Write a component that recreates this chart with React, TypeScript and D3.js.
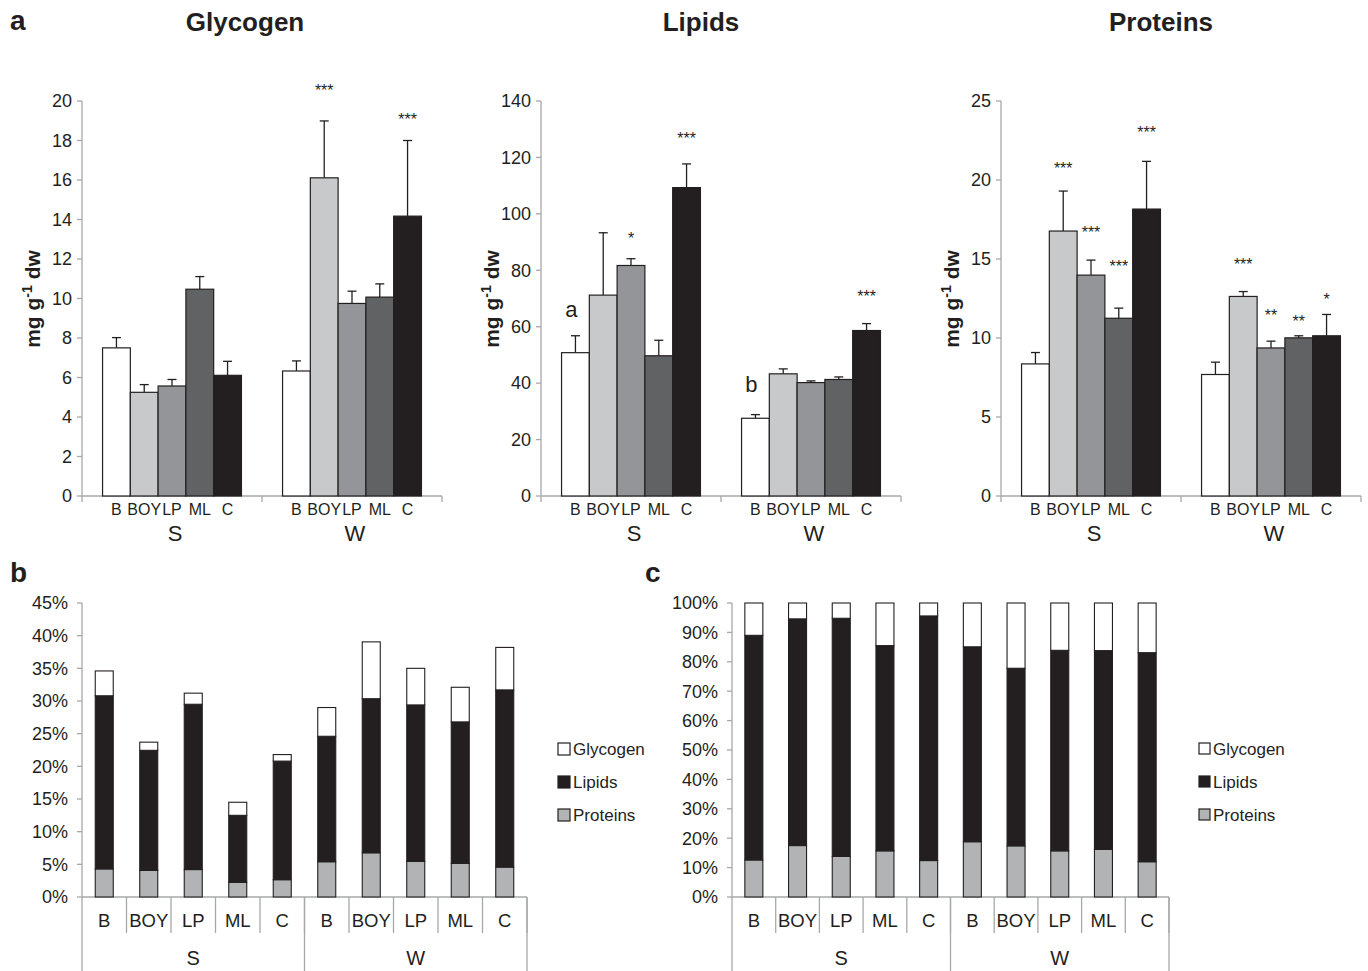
import React from "react";
import * as d3 from "d3";

const groups = ["S", "W"];
const categories = ["B", "BOY", "LP", "ML", "C"];

// Panel a: means and +SE, order S(B,BOY,LP,ML,C), W(B,BOY,LP,ML,C)
const glycogenMean = [7.5, 5.25, 5.57, 10.47, 6.11, 6.33, 16.11, 9.75, 10.07, 14.17];
const glycogenErr = [0.52, 0.39, 0.33, 0.64, 0.71, 0.51, 2.88, 0.62, 0.67, 3.83];
const glycogenSig = ["", "", "", "", "", "", "***", "", "", "***"];
const glycogenSigY = [0, 0, 0, 0, 0, 0, 20.23, 0, 0, 18.81];

const lipidsMean = [50.8, 71.2, 81.7, 49.7, 109.3, 27.55, 43.3, 40.2, 41.3, 58.65];
const lipidsErr = [6.0, 22.1, 2.4, 5.5, 8.4, 1.3, 1.75, 0.6, 0.9, 2.45];
const lipidsSig = ["a", "", "*", "", "***", "b", "", "", "", "***"];
const lipidsSigY = [63.5, 0, 89.3, 0, 124.8, 36.9, 0, 0, 0, 68.8];

const proteinsMean = [8.36, 16.77, 13.98, 11.25, 18.16, 7.69, 12.63, 9.37, 10.01, 10.14];
const proteinsErr = [0.72, 2.53, 0.95, 0.64, 3.02, 0.78, 0.31, 0.43, 0.13, 1.35];
const proteinsSig = ["", "***", "***", "***", "***", "", "***", "**", "**", "*"];
const proteinsSigY = [0, 20.38, 16.33, 14.18, 22.66, 0, 14.3, 11.08, 10.7, 12.09];

// Panel b: % of dry weight
const bProteins = [4.3, 4.07, 4.2, 2.25, 2.65, 5.4, 6.77, 5.45, 5.14, 4.58];
const bLipids = [26.5, 18.38, 25.3, 10.25, 18.15, 19.2, 23.58, 23.95, 21.66, 27.12];
const bGlycogen = [3.8, 1.25, 1.7, 2.0, 1.0, 4.4, 8.7, 5.6, 5.3, 6.5];
const bTicks = [0, 5, 10, 15, 20, 25, 30, 35, 40, 45];

// Panel c: relative composition
const cProteins = [12.6, 17.5, 13.8, 15.7, 12.4, 18.8, 17.4, 15.7, 16.2, 12.0];
const cLipids = [76.4, 77.1, 81.0, 69.8, 83.2, 66.3, 60.4, 68.2, 67.6, 71.1];
const cGlycogen = [11.0, 5.4, 5.2, 14.5, 4.4, 14.9, 22.2, 16.1, 16.2, 16.9];
const cTicks = [0, 10, 20, 30, 40, 50, 60, 70, 80, 90, 100];

const barColors = ["#ffffff", "#c8c9cb", "#939598", "#616264", "#231f20"];
const segKeys = ["Proteins", "Lipids", "Glycogen"];
const segColors: Record<string, string> = { Proteins: "#b2b3b5", Lipids: "#231f20", Glycogen: "#ffffff" };
const legendOrder = ["Glycogen", "Lipids", "Proteins"];

const FONT = "'Liberation Sans', Arial, Helvetica, sans-serif";
const INK = "#231f20";
const AXIS = "#a7a8aa";

type BarPanelProps = {
  axisX: number;
  title: string;
  titleX: number;
  mean: number[];
  err: number[];
  sig: string[];
  sigY: number[];
  yMax: number;
  step: number;
};

function BarPanel({ axisX, title, titleX, mean, err, sig, sigY, yMax, step }: BarPanelProps) {
  const y = d3.scaleLinear().domain([0, yMax]).range([496, 101]);
  const gx = d3.scaleBand().domain(groups).range([axisX, axisX + 360]).padding(0);
  const cx = d3.scaleBand().domain(categories).range([0, gx.bandwidth()]).paddingInner(0).paddingOuter(0.74);
  const ticks = d3.range(0, yMax + step / 2, step);
  const rows = mean.map((m, i) => ({
    g: groups[Math.floor(i / categories.length)],
    c: categories[i % categories.length],
    ci: i % categories.length,
    m,
    e: err[i],
    s: sig[i],
    sy: sigY[i],
  }));
  const bw = cx.bandwidth();
  return (
    <g fontFamily={FONT}>
      <text x={titleX} y={31} textAnchor="middle" fontWeight="bold" fontSize={26} fill={INK}>
        {title}
      </text>
      {/* y axis */}
      <line x1={axisX} x2={axisX} y1={y(yMax)} y2={502} stroke={AXIS} strokeWidth={1.3} />
      {ticks.map((t) => (
        <g key={t}>
          <line x1={axisX - 5} x2={axisX} y1={y(t)} y2={y(t)} stroke={AXIS} strokeWidth={1.3} />
          <text x={axisX - 10} y={y(t)} dy="0.35em" textAnchor="end" fontSize={18} fill={INK}>
            {t}
          </text>
        </g>
      ))}
      {/* x axis */}
      <line x1={axisX} x2={axisX + 360} y1={y(0)} y2={y(0)} stroke={AXIS} strokeWidth={1.3} />
      {groups.map((g) => (
        <line key={g} x1={(gx(g) as number) + gx.bandwidth()} x2={(gx(g) as number) + gx.bandwidth()} y1={y(0)} y2={502} stroke={AXIS} strokeWidth={1.3} />
      ))}
      {/* bars */}
      {rows.map((r, i) => {
        const x = (gx(r.g) as number) + (cx(r.c) as number);
        const mid = x + bw / 2;
        return (
          <g key={i}>
            <line x1={mid} x2={mid} y1={y(r.m)} y2={y(r.m + r.e)} stroke={INK} strokeWidth={1.3} />
            <line x1={mid - 4.5} x2={mid + 4.5} y1={y(r.m + r.e)} y2={y(r.m + r.e)} stroke={INK} strokeWidth={1.3} />
            <rect x={x} y={y(r.m)} width={bw} height={y(0) - y(r.m)} fill={barColors[r.ci]} stroke={INK} strokeWidth={1.2} />
          </g>
        );
      })}
      {/* significance labels */}
      {rows.map((r, i) => {
        if (!r.s) return null;
        const x = (gx(r.g) as number) + (cx(r.c) as number) + bw / 2;
        const isLetter = /[a-z]/.test(r.s);
        return (
          <text key={"s" + i} x={isLetter ? x - 4 : x} y={y(r.sy)} textAnchor="middle" fontSize={isLetter ? 22 : 16} fill={INK}>
            {r.s}
          </text>
        );
      })}
      {/* category labels */}
      {rows.map((r, i) => (
        <text key={"c" + i} x={(gx(r.g) as number) + (cx(r.c) as number) + bw / 2} y={515} textAnchor="middle" fontSize={16} fill={INK}>
          {r.c}
        </text>
      ))}
      {groups.map((g) => (
        <text key={"g" + g} x={(gx(g) as number) + gx.bandwidth() / 2 + 3} y={541} textAnchor="middle" fontSize={22} fill={INK}>
          {g}
        </text>
      ))}
      <text transform={`translate(${axisX - 42},299) rotate(-90)`} textAnchor="middle" fontWeight="bold" fontSize={21} fill={INK}>
        mg g
        <tspan fontSize={14} dy={-8}>-1</tspan>
        <tspan dy={8}> dw</tspan>
      </text>
    </g>
  );
}

type StackPanelProps = {
  axisX: number;
  width: number;
  proteins: number[];
  lipids: number[];
  glycogen: number[];
  ticks: number[];
  legendX: number;
  sq: number;
  label: string;
  labelX: number;
};

function StackPanel({ axisX, width, proteins, lipids, glycogen, ticks, legendX, sq, label, labelX }: StackPanelProps) {
  const yMax = ticks[ticks.length - 1];
  const y = d3.scaleLinear().domain([0, yMax]).range([897, 603]);
  const ids = d3.range(proteins.length);
  const x = d3.scaleBand<number>().domain(ids).range([axisX, axisX + width]).padding(0);
  const gx = d3.scaleBand().domain(groups).range([axisX, axisX + width]).padding(0);
  const table = ids.map((i) => ({ Proteins: proteins[i], Lipids: lipids[i], Glycogen: glycogen[i] }));
  const series = d3.stack<any>().keys(segKeys)(table);
  const bw = 18;
  return (
    <g fontFamily={FONT}>
      <text x={labelX} y={582} fontWeight="bold" fontSize={28} fill={INK}>
        {label}
      </text>
      <line x1={axisX} x2={axisX} y1={y(yMax)} y2={971} stroke={AXIS} strokeWidth={1.3} />
      {ticks.map((t) => (
        <g key={t}>
          <line x1={axisX - 5} x2={axisX} y1={y(t)} y2={y(t)} stroke={AXIS} strokeWidth={1.3} />
          <text x={axisX - 14} y={y(t)} dy="0.35em" textAnchor="end" fontSize={18} fill={INK}>
            {t + "%"}
          </text>
        </g>
      ))}
      <line x1={axisX} x2={axisX + width} y1={y(0)} y2={y(0)} stroke={AXIS} strokeWidth={1.3} />
      {ids.map((i) => (
        <line key={"d" + i} x1={(x(i) as number) + x.bandwidth()} x2={(x(i) as number) + x.bandwidth()} y1={y(0)} y2={933} stroke={AXIS} strokeWidth={1.3} />
      ))}
      {groups.map((g) => (
        <line key={"gd" + g} x1={(gx(g) as number) + gx.bandwidth()} x2={(gx(g) as number) + gx.bandwidth()} y1={y(0)} y2={971} stroke={AXIS} strokeWidth={1.3} />
      ))}
      {series.map((s) => (
        <g key={s.key}>
          {s.map((d, i) => (
            <rect
              key={i}
              x={(x(i) as number) + x.bandwidth() / 2 - bw / 2}
              y={y(d[1])}
              width={bw}
              height={y(d[0]) - y(d[1])}
              fill={segColors[s.key]}
              stroke={INK}
              strokeWidth={1.1}
            />
          ))}
        </g>
      ))}
      {ids.map((i) => (
        <text key={"l" + i} x={(x(i) as number) + x.bandwidth() / 2} y={927} textAnchor="middle" fontSize={18.5} fill={INK}>
          {categories[i % categories.length]}
        </text>
      ))}
      {groups.map((g) => (
        <text key={"gl" + g} x={(gx(g) as number) + gx.bandwidth() / 2} y={965} textAnchor="middle" fontSize={20} fill={INK}>
          {g}
        </text>
      ))}
      {legendOrder.map((k, j) => (
        <g key={k}>
          <rect x={legendX} y={743 + j * 33} width={sq} height={sq} fill={segColors[k]} stroke={INK} strokeWidth={1.2} />
          <text x={legendX + sq + 3} y={755 + j * 33} fontSize={17} fill={INK}>
            {k}
          </text>
        </g>
      ))}
    </g>
  );
}

export default function App() {
  return (
    <svg width={1368} height={971} style={{ position: "absolute", left: 0, top: 0, background: "#fff" }}>
      <rect width={1368} height={971} fill="#fff" />
      <text x={10} y={30} fontFamily={FONT} fontWeight="bold" fontSize={28} fill={INK}>
        a
      </text>
      <BarPanel axisX={82} title="Glycogen" titleX={245} mean={glycogenMean} err={glycogenErr} sig={glycogenSig} sigY={glycogenSigY} yMax={20} step={2} />
      <BarPanel axisX={541} title="Lipids" titleX={701} mean={lipidsMean} err={lipidsErr} sig={lipidsSig} sigY={lipidsSigY} yMax={140} step={20} />
      <BarPanel axisX={1001} title="Proteins" titleX={1161} mean={proteinsMean} err={proteinsErr} sig={proteinsSig} sigY={proteinsSigY} yMax={25} step={5} />
      <StackPanel axisX={82} width={445} proteins={bProteins} lipids={bLipids} glycogen={bGlycogen} ticks={bTicks} legendX={558} sq={12} label="b" labelX={10} />
      <StackPanel axisX={732} width={437} proteins={cProteins} lipids={cLipids} glycogen={cGlycogen} ticks={cTicks} legendX={1199} sq={11} label="c" labelX={645} />
    </svg>
  );
}
